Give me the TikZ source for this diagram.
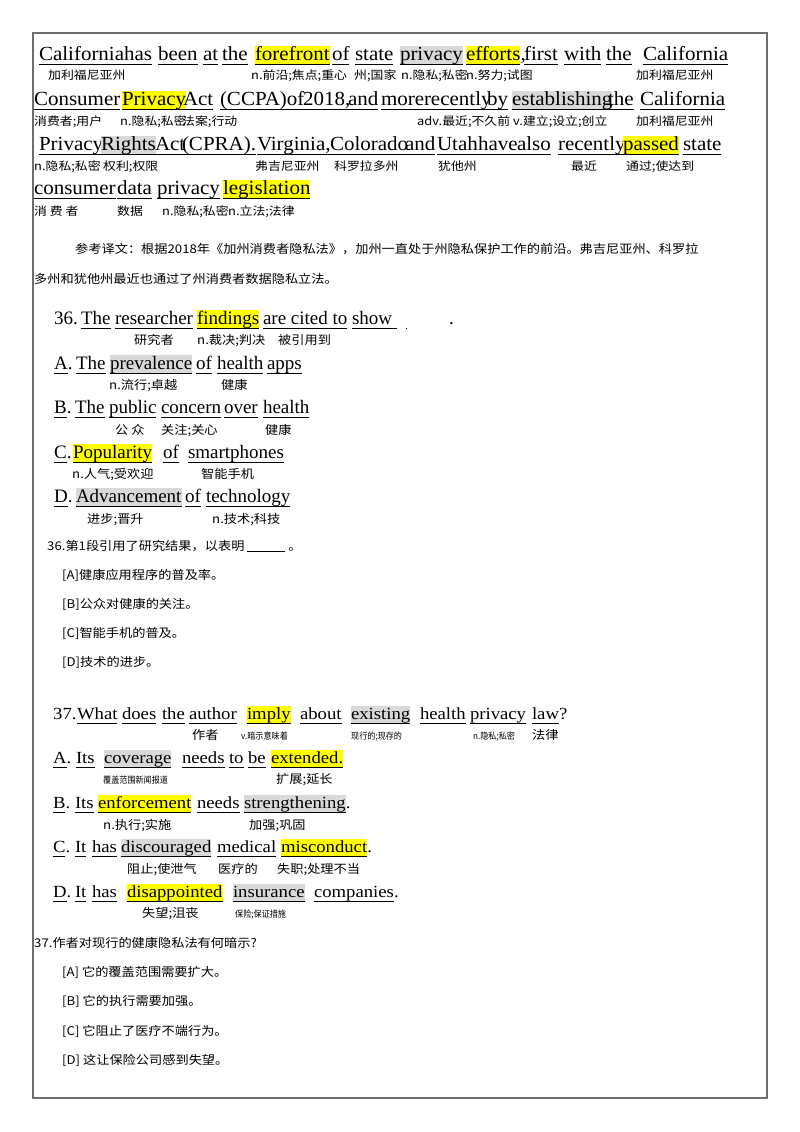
\documentclass[tikz,border=0pt]{standalone}
\usepackage{fontspec}
\newfontfamily\ena[FakeStretch=1.05]{Liberation Serif}
\newfontfamily\enb{Liberation Serif}
\newfontfamily\enc[FakeStretch=1.1]{Liberation Serif}
\newfontfamily\cjk[FakeStretch=1.1]{Noto Sans CJK SC}
\newfontfamily\cjn[FakeStretch=1.12]{Noto Sans CJK SC}
\newfontfamily\cjs[FakeStretch=0.9]{Noto Sans CJK SC}
\definecolor{hy}{RGB}{255,255,0}
\definecolor{hg}{RGB}{217,217,217}
\definecolor{fr}{RGB}{110,110,110}
\tikzset{
 w/.style={anchor=base west,inner sep=0pt,outer sep=0pt,text height=14pt,text depth=4pt,
   append after command={(\tikzlastnode.south west) edge[draw=black,line width=0.7pt] (\tikzlastnode.south east)}},
 p/.style={anchor=base west,inner sep=0pt},
 Y/.style={fill=hy}, G/.style={fill=hg},
 A/.style={w,font=\ena\fontsize{20}{20}\selectfont},
 B/.style={w,font=\enb\fontsize{19}{19}\selectfont},
 C/.style={w,font=\enc\fontsize{17}{17}\selectfont,text height=13pt},
 PA/.style={p,font=\ena\fontsize{20}{20}\selectfont},
 PB/.style={p,font=\enb\fontsize{19}{19}\selectfont},
 PC/.style={p,font=\enc\fontsize{17}{17}\selectfont},
 n/.style={p,font=\cjn\fontsize{11.5}{11.5}\selectfont},
 m/.style={p,font=\cjk\fontsize{12}{12}\selectfont},
 ns/.style={p,font=\cjs\fontsize{9}{9}\selectfont},
 zt/.style={p,font=\cjk\fontsize{12}{12}\selectfont},
 zz/.style={p,font=\cjk\fontsize{12}{12}\selectfont},
}
\begin{document}
\begin{tikzpicture}[x=1pt,y=-1pt]
\useasboundingbox (0,0) rectangle (800,1132);
\draw[fr,line width=2pt] (33,33) rectangle (767,1098);
% ---- paragraph line 1
\node[A] at (39,60) {California}; \node[A] at (124,60) {has}; \node[A] at (158,60) {been};
\node[A] at (203,60) {at}; \node[A] at (222,60) {the}; \node[A,Y] at (255,60) {forefront};
\node[A] at (332,60) {of}; \node[A] at (355,60) {state}; \node[A,G] at (400,60) {privacy};
\node[A,Y] (ef) at (466,60) {efforts}; \node[PA] at (ef.base east) {,};
\node[A] at (524,60) {first}; \node[A] at (564,60) {with}; \node[A] at (606,60) {the};
\node[A] at (643,60) {California};
\node[n] at (48,80) {加利福尼亚州}; \node[n] at (251,80) {n.前沿;焦点;重心};
\node[n] at (354,80) {州;国家}; \node[n] at (401,80) {n.隐私;私密}; \node[n] at (466,80) {n.努力;试图};
\node[n] at (636,80) {加利福尼亚州};
% line 2
\node[A] at (34,105) {Consumer}; \node[A,Y] at (122,105) {Privacy}; \node[A] at (183,105) {Act};
\node[A] at (220,105) {(CCPA)of}; \node[A] at (303,105) {2018,}; \node[A] at (348,105) {and};
\node[A] at (381,105) {more}; \node[A] at (424,105) {recently}; \node[A] at (487,105) {by};
\node[A,G] at (512,105) {establishing}; \node[A] at (608,105) {the}; \node[A] at (640,105) {California};
\node[n] at (34,125) {消费者;用户}; \node[n] at (120,125) {n.隐私;私密}; \node[n] at (182,125) {法案;行动};
\node[n] at (417,125) {adv.最近;不久前}; \node[n] at (513,125) {v.建立;设立;创立}; \node[n] at (636,125) {加利福尼亚州};
% line 3
\node[A] at (39,150) {Privacy}; \node[A,G] at (101,150) {Rights}; \node[A] at (155,150) {Act};
\node[A] at (182,150) {(CPRA).}; \node[A] at (257,150) {Virginia,}; \node[A] at (330,150) {Colorado};
\node[A] at (405,150) {and}; \node[A] at (437,150) {Utah}; \node[A] at (478,150) {have};
\node[A] at (517,150) {also}; \node[A] at (558,150) {recently}; \node[A,Y] at (623,150) {passed};
\node[A] at (683,150) {state};
\node[n] at (34,170) {n.隐私;私密}; \node[n] at (103,170) {权利;权限}; \node[n] at (255,170) {弗吉尼亚州};
\node[n] at (334,170) {科罗拉多州}; \node[n] at (438,170) {犹他州}; \node[n] at (571,170) {最近};
\node[n] at (626,170) {通过;使达到};
% line 4
\node[A] at (34,194) {consumer}; \node[A] at (117,194) {data}; \node[A] at (157,194) {privacy};
\node[A,Y] at (223,194) {legislation};
\node[n] at (34,215) {消 费 者}; \node[n] at (117,215) {数据}; \node[n] at (162,215) {n.隐私;私密};
\node[n] at (228,215) {n.立法;法律};
% translation
\node[zt] at (75,253) {参考译文：根据2018年《加州消费者隐私法》，加州一直处于州隐私保护工作的前沿。弗吉尼亚州、科罗拉};
\node[zt] at (34,283) {多州和犹他州最近也通过了州消费者数据隐私立法。};
% ---- Q36
\node[PB] at (54,324) {36.}; \node[B] at (81,324) {The}; \node[B] at (115,324) {researcher};
\node[B,Y] at (197,324) {findings}; \node[B] at (263,324) {are cited to}; \node[B] at (352,324) {show\ \ };
\node[B] at (406,324) {\hspace{40pt}}; \node[PB] at (449,324) {.};
\node[m] at (134,344) {研究者}; \node[m] at (197,344) {n.裁决;判决}; \node[m] at (278,344) {被引用到};
\node[B] (a1) at (54,369) {A}; \node[PB] at (a1.base east) {.};
\node[B] at (76,369) {The}; \node[B,G] at (110,369) {prevalence}; \node[B] at (196,369) {of};
\node[B] at (217,369) {health}; \node[B] at (267,369) {apps};
\node[m] at (109,389) {n.流行;卓越}; \node[m] at (221,389) {健康};
\node[B] (b1) at (54,413) {B}; \node[PB] at (b1.base east) {.};
\node[B] at (75,413) {The}; \node[B] at (109,413) {public}; \node[B] at (161,413) {concern};
\node[B] at (224,413) {over}; \node[B] at (263,413) {health};
\node[m] at (115,434) {公 众}; \node[m] at (161,434) {关注;关心}; \node[m] at (265,434) {健康};
\node[B] (c1) at (54,458) {C}; \node[PB] at (c1.base east) {.};
\node[B,Y] at (73,458) {Popularity}; \node[B] at (163,458) {of}; \node[B] at (188,458) {smartphones};
\node[m] at (72,478) {n.人气;受欢迎}; \node[m] at (201,478) {智能手机};
\node[B] (d1) at (54,502) {D}; \node[PB] at (d1.base east) {.};
\node[B,G] at (76,502) {Advancement}; \node[B] at (185,502) {of}; \node[B] at (206,502) {technology};
\node[m] at (87,523) {进步;晋升}; \node[m] at (212,523) {n.技术;科技};
% Chinese 36
\node[zz] at (47,550) {36.第1段引用了研究结果，以表明 \underline{\hspace{38pt}} 。};
\node[zz] at (62,579) {[A]健康应用程序的普及率。};
\node[zz] at (62,608) {[B]公众对健康的关注。};
\node[zz] at (62,637) {[C]智能手机的普及。};
\node[zz] at (62,666) {[D]技术的进步。};
% ---- Q37
\node[PC] at (53,719) {37.}; \node[C] at (77,719) {What}; \node[C] at (122,719) {does};
\node[C] at (162,719) {the}; \node[C] at (189,719) {author}; \node[C,Y] at (247,719) {imply};
\node[C] at (300,719) {about}; \node[C,G] at (351,719) {existing}; \node[C] at (420,719) {health};
\node[C] at (470,719) {privacy}; \node[C] (law) at (532,719) {law}; \node[PC] at (law.base east) {?};
\node[m] at (192,739) {作者}; \node[ns] at (241,739) {v.暗示意味着}; \node[ns] at (351,739) {现行的;现存的};
\node[ns] at (473,739) {n.隐私;私密}; \node[m] at (532,739) {法律};
\node[C] (a2) at (53,763) {A}; \node[PC] at (a2.base east) {.};
\node[C] at (76,763) {Its}; \node[C,G] at (104,763) {coverage}; \node[C] at (182,763) {needs};
\node[C] at (229,763) {to}; \node[C] at (248,763) {be}; \node[C,Y] at (271,763) {extended.};
\node[ns] at (103,783) {覆盖范围新闻报道}; \node[m] at (276,783) {扩展;延长};
\node[C] (b2) at (53,808) {B}; \node[PC] at (b2.base east) {.};
\node[C] at (75,808) {Its}; \node[C,Y] at (98,808) {enforcement}; \node[C] at (197,808) {needs};
\node[C,G] (st) at (244,808) {strengthening}; \node[PC] at (st.base east) {.};
\node[m] at (103,829) {n.执行;实施}; \node[m] at (249,829) {加强;巩固};
\node[C] (c2) at (53,852) {C}; \node[PC] at (c2.base east) {.};
\node[C] at (75,852) {It}; \node[C] at (92,852) {has}; \node[C,G] at (121,852) {discouraged};
\node[C] at (217,852) {medical}; \node[C,Y] (mc) at (281,852) {misconduct}; \node[PC] at (mc.base east) {.};
\node[m] at (127,873) {阻止;使泄气}; \node[m] at (218,873) {医疗的}; \node[m] at (277,873) {失职;处理不当};
\node[C] (d2) at (53,897) {D}; \node[PC] at (d2.base east) {.};
\node[C] at (75,897) {It}; \node[C] at (92,897) {has}; \node[C,Y] at (127,897) {disappointed};
\node[C,G] at (233,897) {insurance}; \node[C] (co) at (314,897) {companies}; \node[PC] at (co.base east) {.};
\node[m] at (142,917) {失望;沮丧}; \node[ns] at (235,917) {保险;保证措施};
% Chinese 37
\node[zz] at (34,947) {37.作者对现行的健康隐私法有何暗示?};
\node[zz] at (62,976) {[A] 它的覆盖范围需要扩大。};
\node[zz] at (62,1005) {[B] 它的执行需要加强。};
\node[zz] at (62,1035) {[C] 它阻止了医疗不端行为。};
\node[zz] at (62,1064) {[D] 这让保险公司感到失望。};
\end{tikzpicture}
\end{document}
